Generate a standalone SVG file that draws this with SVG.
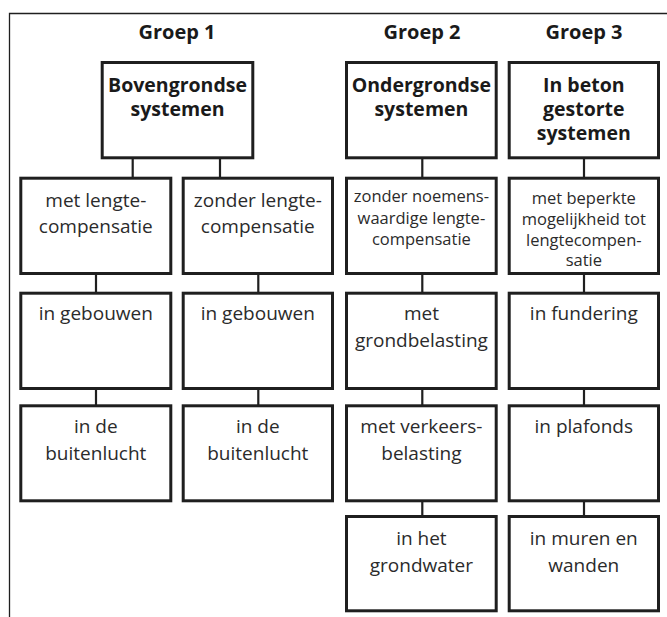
<svg xmlns="http://www.w3.org/2000/svg" width="667" height="617" viewBox="0 0 667 617">
<style>
text{font-family:"Open Sans","Noto Sans","Liberation Sans",sans-serif;text-anchor:middle;fill:#2b2b2b}
.g{font-size:20px;font-weight:bold;fill:#1a1a1a}
.h{font-size:19.5px;font-weight:bold;fill:#1a1a1a}
.b{font-size:19px}
.s{font-size:16.5px}
.box{fill:#fff;stroke:#1f1f1f;stroke-width:3}
.c{stroke:#1f1f1f;stroke-width:2.2;fill:none}
.frame{stroke:#1f1f1f;stroke-width:1.3;fill:none}
</style>
<rect width="667" height="617" fill="#fff"/>
<path class="frame" d="M9.5 617V13.5H667"/>
<text class="g" x="177" y="38.5">Groep 1</text>
<text class="g" x="422" y="38.5">Groep 2</text>
<text class="g" x="584" y="38.5">Groep 3</text>
<g id="connectors">
<path class="c" d="M132.7 159V177M220 159V177M96 275V292M96 390V405M258.3 275V292M258.3 390V405M422.3 159V177M422.3 275V292M422.3 390V405M422.3 502V515M584 159V177M584 275V292M584 390V405M584 502V515"/>
</g>
<g id="g1-head"><rect class="box" x="102.2" y="62.5" width="150.6" height="95.3"/><text class="h" x="177.5" y="91.5">Bovengrondse</text><text class="h" x="177.5" y="115.5">systemen</text></g>
<g id="g1-met"><rect class="box" x="20.8" y="178.2" width="150" height="95.3"/><text class="b" x="95.8" y="206.5">met lengte-</text><text class="b" x="95.8" y="233">compensatie</text></g>
<g id="g1-zonder"><rect class="box" x="183.2" y="178.2" width="149.3" height="95.3"/><text class="b" x="257.8" y="206.5">zonder lengte-</text><text class="b" x="257.8" y="233">compensatie</text></g>
<g id="g1-met-gebouwen"><rect class="box" x="20.8" y="293.2" width="150" height="95.3"/><text class="b" x="95.8" y="320">in gebouwen</text></g>
<g id="g1-zonder-gebouwen"><rect class="box" x="183.2" y="293.2" width="149.3" height="95.3"/><text class="b" x="257.8" y="320">in gebouwen</text></g>
<g id="g1-met-buiten"><rect class="box" x="20.8" y="405.8" width="150" height="95"/><text class="b" x="95.8" y="433.3">in de</text><text class="b" x="95.8" y="459.5">buitenlucht</text></g>
<g id="g1-zonder-buiten"><rect class="box" x="183.2" y="405.8" width="149.3" height="95"/><text class="b" x="257.8" y="433.3">in de</text><text class="b" x="257.8" y="459.5">buitenlucht</text></g>
<g id="g2-head"><rect class="box" x="346.5" y="62.5" width="149.7" height="95.3"/><text class="h" x="421.4" y="91.5">Ondergrondse</text><text class="h" x="421.4" y="115.5">systemen</text></g>
<g id="g2-zonder"><rect class="box" x="346.5" y="178.2" width="149.7" height="95.3"/><text class="s" x="421.4" y="201.5">zonder noemens-</text><text class="s" x="421.4" y="223.5">waardige lengte-</text><text class="s" x="421.4" y="245">compensatie</text></g>
<g id="g2-grond"><rect class="box" x="346.5" y="293.2" width="149.7" height="95.3"/><text class="b" x="421.4" y="320">met</text><text class="b" x="421.4" y="346.5">grondbelasting</text></g>
<g id="g2-verkeer"><rect class="box" x="346.5" y="405.8" width="149.7" height="95"/><text class="b" x="421.4" y="433.3">met verkeers-</text><text class="b" x="421.4" y="459.5">belasting</text></g>
<g id="g2-water"><rect class="box" x="346.5" y="516.5" width="149.7" height="94.3"/><text class="b" x="421.4" y="545">in het</text><text class="b" x="421.4" y="571.5">grondwater</text></g>
<g id="g3-head"><rect class="box" x="509.2" y="62.5" width="149.3" height="95.3"/><text class="h" x="583.8" y="91.5">In beton</text><text class="h" x="583.8" y="115.5">gestorte</text><text class="h" x="583.8" y="139.5">systemen</text></g>
<g id="g3-beperkt"><rect class="box" x="509.2" y="178.2" width="149.3" height="95.3"/><text class="s" x="583.8" y="204">met beperkte</text><text class="s" x="583.8" y="225">mogelijkheid tot</text><text class="s" x="583.8" y="246">lengtecompen-</text><text class="s" x="583.8" y="266">satie</text></g>
<g id="g3-fundering"><rect class="box" x="509.2" y="293.2" width="149.3" height="95.3"/><text class="b" x="583.8" y="320">in fundering</text></g>
<g id="g3-plafonds"><rect class="box" x="509.2" y="405.8" width="149.3" height="95"/><text class="b" x="583.8" y="433.3">in plafonds</text></g>
<g id="g3-muren"><rect class="box" x="509.2" y="516.5" width="149.3" height="94.3"/><text class="b" x="583.8" y="545">in muren en</text><text class="b" x="583.8" y="571.5">wanden</text></g>
</svg>
